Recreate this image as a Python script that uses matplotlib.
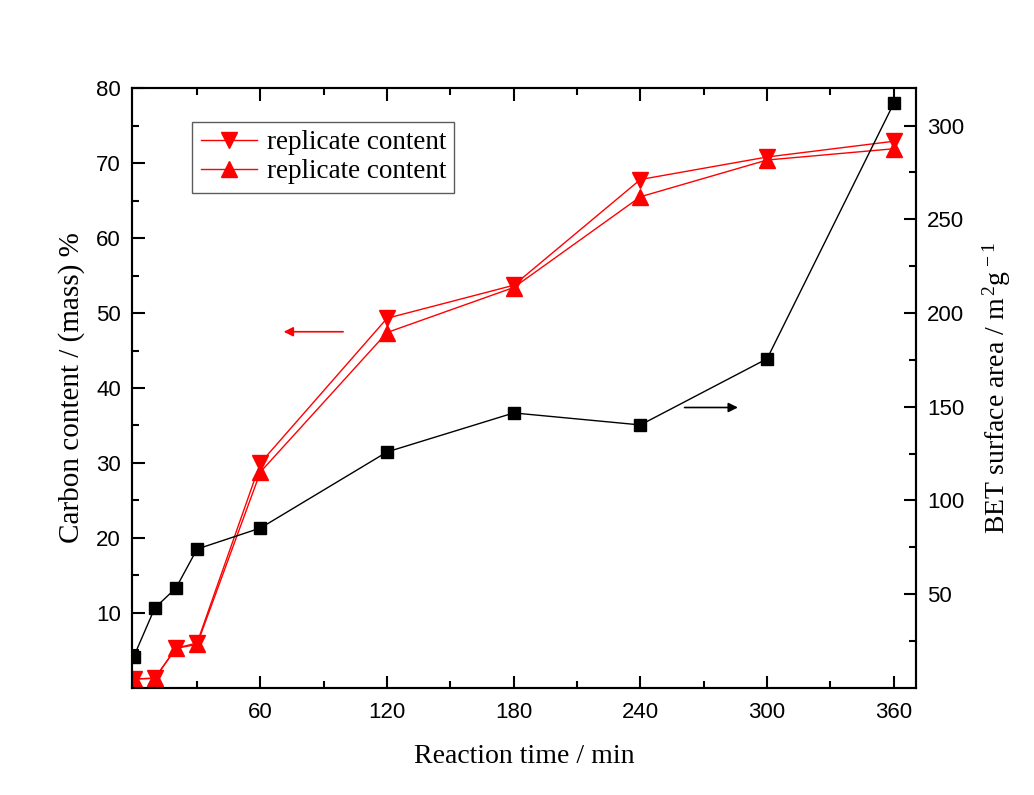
import matplotlib
matplotlib.use("Agg")
import matplotlib.pyplot as plt

# reaction time (min)
time = [0, 10, 20, 30, 60, 120, 180, 240, 300, 360]
# carbon content (mass %), two replicates
carbon_rep1 = [1.2, 1.3, 5.3, 6.0, 30.0, 49.3, 53.7, 67.8, 70.8, 72.9]
carbon_rep2 = [1.2, 1.3, 5.3, 5.8, 28.8, 47.4, 53.4, 65.5, 70.4, 71.9]
# BET surface area (m2/g)
bet_area = [16.7, 42.7, 53.3, 74.1, 85.3, 125.9, 146.7, 140.3, 175.6, 311.8]

x_ticks = [60, 120, 180, 240, 300, 360]
left_ticks = [10, 20, 30, 40, 50, 60, 70, 80]
right_ticks = [50, 100, 150, 200, 250, 300]

serif = "Liberation Serif"
sans = "Liberation Sans"
plt.rcParams["mathtext.fontset"] = "custom"
plt.rcParams["mathtext.rm"] = serif
plt.rcParams["mathtext.it"] = serif + ":italic"

fig = plt.figure(figsize=(10.34, 7.95), dpi=100)
ax = fig.add_axes([0.1277, 0.1346, 0.7579, 0.7547])
ax2 = ax.twinx()

red = "#ff0000"
ax.plot(time, carbon_rep1, color=red, lw=1.0, marker="v", ms=11,
        mec=red, mfc=red, label="replicate content")
ax.plot(time, carbon_rep2, color=red, lw=1.0, marker="^", ms=11,
        mec=red, mfc=red, label="replicate content")
ax2.plot(time, bet_area, color="black", lw=1.0, marker="s", ms=9,
         mec="black", mfc="black")

ax.set_xlim(-0.8, 370.4)
ax.set_ylim(0, 80)
ax2.set_ylim(0, 320)

ax.set_xticks(x_ticks)
ax.set_xticks(range(30, 370, 60), minor=True)
ax.set_yticks(left_ticks)
ax.set_yticks(range(5, 80, 10), minor=True)
ax2.set_yticks(right_ticks)
ax2.set_yticks(range(25, 320, 50), minor=True)

for a in (ax, ax2):
    for s in a.spines.values():
        s.set_linewidth(1.5)
    a.tick_params(which="both", direction="in", width=1.5, top=True)
    a.tick_params(which="major", length=9)
    a.tick_params(which="minor", length=5)

ax.tick_params(right=False, labelsize=16)
ax2.tick_params(left=False, labelsize=16)
for lab in ax.get_xticklabels() + ax.get_yticklabels() + ax2.get_yticklabels():
    lab.set_fontfamily(sans)
ax.tick_params(axis="x", pad=10)
ax.tick_params(axis="y", pad=8)
ax2.tick_params(axis="y", pad=8)

ax.set_xlabel("Reaction time / min", fontfamily=serif, fontsize=20, labelpad=15)
ax.set_ylabel("Carbon content / (mass) %", fontfamily=serif, fontsize=21, labelpad=8)
ax2.set_ylabel("BET surface area / m$^{\\,2}$g$^{\\,-1}$", fontfamily=serif,
               fontsize=20, labelpad=12)

# direction arrows
ax.annotate("", xy=(69.7, 47.5), xytext=(100.5, 47.5),
            arrowprops=dict(arrowstyle="-|>", color=red, lw=1.2, mutation_scale=14))
ax.annotate("", xy=(287.5, 37.4), xytext=(259.6, 37.4),
            arrowprops=dict(arrowstyle="-|>", color="black", lw=1.2, mutation_scale=14))

leg = ax.legend(loc="upper left", bbox_to_anchor=(0.077, 0.943),
                prop={"family": serif, "size": 19.5}, frameon=True, fancybox=False,
                edgecolor="#333333", handlelength=2.1, borderpad=0.3,
                labelspacing=0.15, handletextpad=0.35, borderaxespad=0)
leg.get_frame().set_linewidth(1.0)

fig.savefig("out.png", dpi=100, facecolor="white")
